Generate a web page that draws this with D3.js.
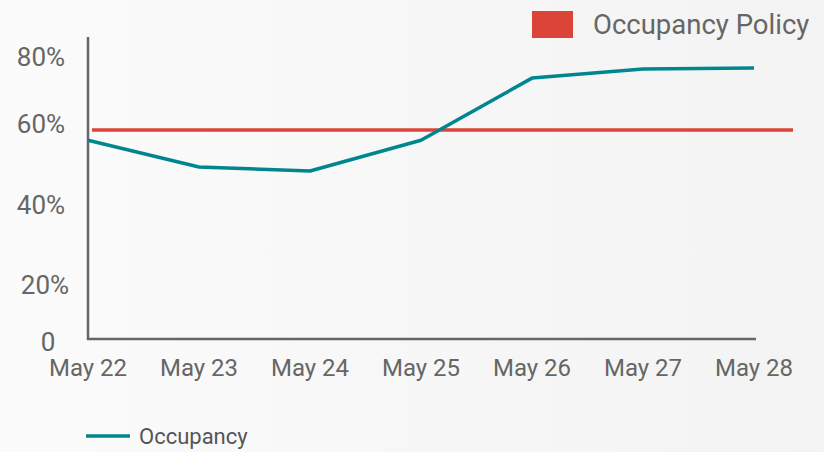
<!DOCTYPE html>
<html>
<head>
<meta charset="utf-8">
<script src="https://cdn.jsdelivr.net/npm/d3@7"></script>
<style>
  body { margin: 0; background: #f7f7f7; }
  svg { display: block; font-family: Roboto, "Noto Sans", sans-serif; }
</style>
</head>
<body>
<svg id="chart" width="824" height="452"></svg>
<script>
// data
var days = ["May 22", "May 23", "May 24", "May 25", "May 26", "May 27", "May 28"];
var occupancy = [56, 49.4, 48.4, 56, 73.7, 76.4, 76.7];
var policy = 58.5;
var yTicks = [0, 20, 40, 60, 80];
var yTickLabels = ["0", "20%", "40%", "60%", "80%"];

var svg = d3.select("#chart"),
    width = +svg.attr("width"),
    height = +svg.attr("height");

// soft background
var defs = svg.append("defs");
var grad = defs.append("linearGradient").attr("id", "bg").attr("x1", 0).attr("x2", 1).attr("y1", 0).attr("y2", 0);
grad.append("stop").attr("offset", "0%").attr("stop-color", "#fbfbfb");
grad.append("stop").attr("offset", "100%").attr("stop-color", "#f3f3f3");
svg.append("rect").attr("width", width).attr("height", height).attr("fill", "url(#bg)");

var x = d3.scalePoint().domain(days).range([88, 754]);

// the axis labels are not evenly spaced in the original, so the scale is piecewise
var y = d3.scaleLinear().domain(yTicks).range([339, 285, 205, 124, 57]);

// axes lines
svg.append("line")
  .attr("x1", 88).attr("x2", 88)
  .attr("y1", 37).attr("y2", 340)
  .attr("stroke", "#666").attr("stroke-width", 2.5);
svg.append("line")
  .attr("x1", 87).attr("x2", 756)
  .attr("y1", y(0)).attr("y2", y(0))
  .attr("stroke", "#666").attr("stroke-width", 2.5);

// y labels
svg.append("g").selectAll("text")
  .data(yTicks)
  .enter().append("text")
  .attr("x", function(d) { return d == 0 ? 48 : (d == 20 ? 45 : 41); })
  .attr("y", function(d) { return y(d) + (d == 0 ? 3 : 0); })
  .attr("text-anchor", "middle")
  .attr("dominant-baseline", "central")
  .attr("font-size", 26)
  .attr("fill", "#666")
  .text(function(d, i) { return yTickLabels[i]; });

// x labels
svg.append("g").selectAll("text")
  .data(days)
  .enter().append("text")
  .attr("x", function(d) { return x(d); })
  .attr("y", 376)
  .attr("text-anchor", "middle")
  .attr("font-size", 24)
  .attr("fill", "#666")
  .text(function(d) { return d; });

// policy line
svg.append("line")
  .attr("x1", 92).attr("x2", 793)
  .attr("y1", y(policy)).attr("y2", y(policy))
  .attr("stroke", "#db4437").attr("stroke-width", 3.5);

// occupancy line
var line = d3.line()
  .x(function(d, i) { return x(days[i]); })
  .y(function(d) { return y(d); });

svg.append("path")
  .datum(occupancy)
  .attr("d", line)
  .attr("fill", "none")
  .attr("stroke", "#00868f")
  .attr("stroke-width", 3.5)
  .attr("stroke-linejoin", "round");

// top legend
svg.append("rect")
  .attr("x", 532).attr("y", 11)
  .attr("width", 41).attr("height", 27)
  .attr("fill", "#db4437");
svg.append("text")
  .attr("x", 593).attr("y", 34)
  .attr("font-size", 27.5)
  .attr("fill", "#666")
  .text("Occupancy Policy");

// bottom legend
svg.append("line")
  .attr("x1", 86).attr("x2", 130)
  .attr("y1", 436).attr("y2", 436)
  .attr("stroke", "#00868f").attr("stroke-width", 3.5);
svg.append("text")
  .attr("x", 139).attr("y", 444)
  .attr("font-size", 22)
  .attr("fill", "#555")
  .text("Occupancy");
</script>
</body>
</html>
